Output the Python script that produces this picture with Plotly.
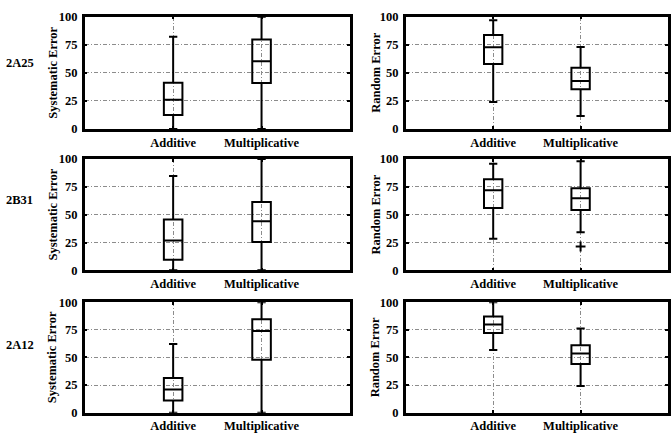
import plotly.graph_objects as go

categories = ["Additive", "Multiplicative"]
products = ["2A25", "2B31", "2A12"]
y_ticks = [0, 25, 50, 75, 100]

# rows = products, columns = categories
SYS_LO = [[0, 0], [0, 0], [0, 0]]
SYS_Q1 = [[12.4, 41.0], [9.5, 25.4], [11.0, 48.0]]
SYS_MED = [[26.1, 60.3], [26.9, 44.2], [20.9, 74.1]]
SYS_Q3 = [[41.1, 79.6], [45.7, 61.3], [31.4, 84.6]]
SYS_HI = [[82.2, 100], [84.7, 100], [62.2, 100]]

RND_LO = [[24.1, 11.5], [28.3, 34.1], [56.7, 24.1]]
RND_Q1 = [[57.8, 35.3], [56.0, 54.3], [72.1, 44.2]]
RND_MED = [[72.7, 42.8], [72.0, 64.7], [79.9, 53.5]]
RND_Q3 = [[83.6, 54.6], [81.8, 73.7], [87.2, 61.0]]
RND_HI = [[96.8, 73.0], [95.7, 98.0], [100, 76.2]]
RND_OUTLIERS = [[[], []], [[], [21.4]], [[], []]]

FONT = "Liberation Serif"
W, H = 671, 440

x_dom = [[85 / W, 351 / W], [407 / W, 670 / W]]
rows_px = [(10, 126), (157, 272), (305, 419)]
label_px = [58, 199, 349]
y_dom = [[1 - b / H, 1 - t / H] for t, b in rows_px]

fig = go.Figure()
layout = dict(
    width=W, height=H, margin=dict(l=0, r=0, t=0, b=0),
    paper_bgcolor="white", plot_bgcolor="white", showlegend=False,
)

annotations = []
idx = 0
for r in range(3):
    for c in range(2):
        idx += 1
        xa = "x" if idx == 1 else f"x{idx}"
        ya = "y" if idx == 1 else f"y{idx}"
        if c == 0:
            lo, q1, med, q3, hi = SYS_LO[r], SYS_Q1[r], SYS_MED[r], SYS_Q3[r], SYS_HI[r]
            title = "Systematic Error"
        else:
            lo, q1, med, q3, hi = RND_LO[r], RND_Q1[r], RND_MED[r], RND_Q3[r], RND_HI[r]
            title = "Random Error"
        fig.add_trace(go.Box(
            x=[1, 2], q1=q1, median=med, q3=q3, lowerfence=lo, upperfence=hi,
            xaxis=xa, yaxis=ya, width=0.21, whiskerwidth=0.45,
            line=dict(color="black", width=2), fillcolor="rgba(0,0,0,0)",
            boxpoints=False, hoverinfo="skip",
        ))
        if c == 1:
            for k in range(2):
                if RND_OUTLIERS[r][k]:
                    fig.add_trace(go.Scatter(
                        x=[k + 1] * len(RND_OUTLIERS[r][k]), y=RND_OUTLIERS[r][k],
                        mode="markers", xaxis=xa, yaxis=ya,
                        marker=dict(symbol="cross-thin", size=7,
                                    line=dict(color="black", width=2)),
                        hoverinfo="skip",
                    ))
        axcommon = dict(
            showline=True, linecolor="black", linewidth=2.5, mirror="ticks",
            ticks="inside", ticklen=3, tickcolor="black", tickwidth=1.5,
            showgrid=True, gridcolor="#8c8c8c", griddash="4px,2px,1px,2px", gridwidth=1,
            zeroline=False,
            tickfont=dict(family=FONT, size=12.5, color="black", weight="bold"),
        )
        layout["xaxis" if idx == 1 else f"xaxis{idx}"] = dict(
            axcommon, domain=x_dom[c], range=[0, 3], tickvals=[1, 2],
            ticktext=categories, anchor=ya,
        )
        layout["yaxis" if idx == 1 else f"yaxis{idx}"] = dict(
            axcommon, domain=y_dom[r], range=[0, 100], tickvals=y_ticks,
            anchor=xa, ticklabelstandoff=2,
        )
        # y-axis title
        xpx = 53 if c == 0 else 377
        ymid = (rows_px[r][0] + rows_px[r][1]) / 2
        annotations.append(dict(
            text=title, x=xpx / W, y=1 - ymid / H, xref="paper", yref="paper",
            textangle=-90, showarrow=False, xanchor="center", yanchor="middle",
            font=dict(family=FONT, size=12.5, color="black", weight="bold"),
        ))
    annotations.append(dict(
        text=products[r], x=20 / W, y=1 - label_px[r] / H, xref="paper", yref="paper",
        showarrow=False, xanchor="center", yanchor="middle",
        font=dict(family=FONT, size=12.5, color="black", weight="bold"),
    ))

layout["annotations"] = annotations
fig.update_layout(**layout)
fig.write_html(
    "out.html",
    config={"displayModeBar": False},
    post_script="document.body.style.margin='0';document.body.style.overflow='hidden';",
)
